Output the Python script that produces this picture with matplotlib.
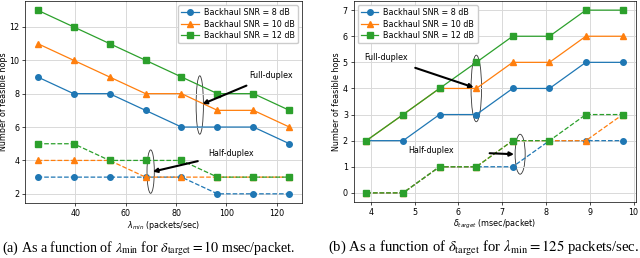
import matplotlib.pyplot as plt
from matplotlib.patches import Ellipse

# (a) vs lambda_min
lam = [25, 39.29, 53.57, 67.86, 82.14, 96.43, 110.71, 125]
fd_lam_8 = [9, 8, 8, 7, 6, 6, 6, 5]
fd_lam_10 = [11, 10, 9, 8, 8, 7, 7, 6]
fd_lam_12 = [13, 12, 11, 10, 9, 8, 8, 7]
hd_lam_8 = [3, 3, 3, 3, 3, 2, 2, 2]
hd_lam_10 = [4, 4, 4, 3, 3, 3, 3, 3]
hd_lam_12 = [5, 5, 4, 4, 4, 3, 3, 3]

# (b) vs delta_target
delta = [3.9, 4.74, 5.57, 6.41, 7.24, 8.08, 8.91, 9.75]
fd_del_8 = [2, 2, 3, 3, 4, 4, 5, 5]
fd_del_10 = [2, 3, 4, 4, 5, 5, 6, 6]
fd_del_12 = [2, 3, 4, 5, 6, 6, 7, 7]
hd_del_8 = [0, 0, 1, 1, 1, 2, 2, 2]
hd_del_10 = [0, 0, 1, 1, 2, 2, 2, 3]
hd_del_12 = [0, 0, 1, 1, 2, 2, 3, 3]

snr_labels = ["Backhaul SNR = 8 dB", "Backhaul SNR = 10 dB", "Backhaul SNR = 12 dB"]
colors = ["#1f77b4", "#ff7f0e", "#2ca02c"]
markers = ["o", "^", "s"]
FS = 5.8

fig = plt.figure(figsize=(6.4, 2.58), dpi=100)
ax1 = fig.add_axes([25 / 640, 1 - 203 / 258, 277 / 640, 202 / 258])
ax2 = fig.add_axes([353.5 / 640, 1 - 202 / 258, 282 / 640, 201 / 258])


def draw(ax, x, fd, hd, loc):
    for s, c, m, lab in zip(fd, colors, markers, snr_labels):
        ax.plot(x, s, color=c, marker=m, markersize=4, linewidth=0.9, label=lab)
    for s, c, m in zip(hd, colors, markers):
        ax.plot(x, s, color=c, marker=m, markersize=4, linewidth=0.9, linestyle="--")
    ax.grid(True, color="#d9d9d9", linewidth=0.7)
    ax.tick_params(labelsize=FS, length=2.5, width=0.5, pad=1.5)
    ax.set_ylabel("Number of feasible hops", fontsize=FS, labelpad=1)
    for sp in ax.spines.values():
        sp.set_linewidth(0.5)
    ax.legend(fontsize=FS, loc=loc, handlelength=2.2, borderpad=0.4,
              labelspacing=0.3, handletextpad=0.6, framealpha=1)


arrow = dict(arrowstyle="-|>", color="black", lw=1.5, mutation_scale=6, shrinkB=0)

draw(ax1, lam, [fd_lam_8, fd_lam_10, fd_lam_12], [hd_lam_8, hd_lam_10, hd_lam_12],
     "upper right")
ax1.set_xlabel(r"$\lambda_{min}$ (packets/sec)", fontsize=FS, labelpad=1)
ax1.set_xticks([40, 60, 80, 100, 120])
ax1.set_yticks([2, 4, 6, 8, 10, 12])
ax1.add_patch(Ellipse((89.4, 7.32), 2.9, 3.5, fill=False, lw=0.6, color="#333333"))
ax1.annotate("Full-duplex", xy=(90.5, 7.38), xytext=(117.9, 9.11), fontsize=FS,
             ha="center", va="center", arrowprops=dict(arrow, shrinkA=6))
ax1.add_patch(Ellipse((69.9, 3.33), 2.9, 2.6, fill=False, lw=0.6, color="#333333"))
ax1.annotate("Half-duplex", xy=(70.8, 3.33), xytext=(102, 4.43), fontsize=FS,
             ha="center", va="center", arrowprops=dict(arrow, shrinkA=6))

draw(ax2, delta, [fd_del_8, fd_del_10, fd_del_12], [hd_del_8, hd_del_10, hd_del_12],
     "upper left")
ax2.set_xlabel(r"$\delta_{target}$ (msec/packet)", fontsize=FS, labelpad=1)
ax2.set_xticks([4, 5, 6, 7, 8, 9, 10])
ax2.add_patch(Ellipse((6.41, 4.0), 0.24, 2.55, fill=False, lw=0.6, color="#333333"))
ax2.annotate("Full-duplex", xy=(6.35, 4.04), xytext=(4.34, 5.17), fontsize=FS,
             ha="center", va="center", arrowprops=dict(arrow, shrinkA=6))
ax2.add_patch(Ellipse((7.41, 1.48), 0.23, 1.53, fill=False, lw=0.6, color="#333333"))
ax2.annotate("Half-duplex", xy=(7.27, 1.48), xytext=(5.37, 1.61), fontsize=FS,
             ha="center", va="center", arrowprops=dict(arrow, shrinkA=24))

cap = dict(fontfamily="Liberation Serif", math_fontfamily="stix",
           ha="center", va="center")
fig.text(148.5 / 640, 1 - 249 / 258,
         r"(a) As a function of $\lambda_{\min}$ for $\delta_{\mathrm{target}}=10$ msec/packet.",
         fontsize=10.1, **cap)
fig.text(483.5 / 640, 1 - 249 / 258,
         r"(b) As a function of $\delta_{\mathrm{target}}$ for $\lambda_{\min}=125$ packets/sec.",
         fontsize=10.6, **cap)

fig.savefig("out.png", dpi=100)
